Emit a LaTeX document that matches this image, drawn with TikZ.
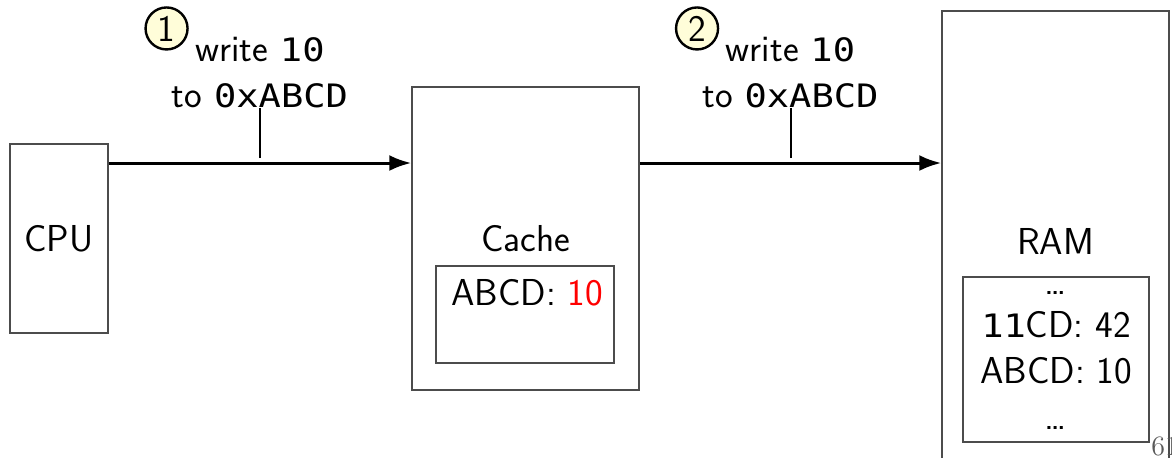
\documentclass[tikz,border=0pt]{standalone}
\usepackage{fontspec}
\setmonofont[Scale=0.86, FakeStretch=1.15]{DejaVu Sans Mono}
\usepackage{xcolor}
\usetikzlibrary{arrows.meta,positioning}

\begin{document}
\begin{tikzpicture}[
    x=0.5pt, y=-0.5pt,
    every node/.style={font=\sffamily\fontsize{18.75}{23}\selectfont},
    unit/.style={draw=black!70, line width=0.75pt, inner sep=0pt},
    arr/.style={-{Latex[length=11pt,width=8pt]}, line width=1.5pt},
    tick/.style={line width=1pt},
    note/.style={align=center, inner sep=0pt, anchor=south},
    num/.style={circle, draw, line width=1.2pt, fill=yellow!15, inner sep=0pt, minimum size=21pt},
]
    \path[use as bounding box] (0,0) rectangle (1172,457);

    % CPU
    \node[unit, minimum width=49pt, minimum height=94.5pt] (cpu) at (59,238.5) {CPU};

    % Cache
    \node[unit, minimum width=113.5pt, minimum height=151.5pt] (cache) at (525.5,238.5) {Cache};
    \node[unit, minimum width=89pt, minimum height=48.5pt] (cacheline) at (525,314.5) {};
    \node[anchor=base] (cacheval) at (527,305) {ABCD: \textcolor{red}{10}};

    % RAM
    \node[unit, minimum width=113.5pt, minimum height=230pt] (ram) at (1055.5,241) {RAM};
    \node[unit, minimum width=93pt, minimum height=82.5pt] (ramlines) at (1056,359.5) {};
    \node[anchor=base] (ramtop) at (1056,294) {\ldots};
    \node[anchor=base] (ramone) at (1056,337) {\texttt{11}CD: 42};
    \node[anchor=base] (ramtwo) at (1056,383) {ABCD: 10};
    \node[anchor=base] (rambot) at (1056,429) {\ldots};

    % step 1
    \draw[arr] ([yshift=37.75pt]cpu.east) -- coordinate (m1) ([yshift=37.75pt]cache.west);
    \node[note] (lab1) at (260,108) {write \texttt{10}\\to \texttt{0xABCD}};
    \draw[tick, shorten <=2.5pt] (m1) -- (m1 |- lab1.south);
    \node[num] (n1) at ([xshift=-2.5pt, yshift=4pt]lab1.north west) {1};

    % step 2
    \draw[arr] ([yshift=37.75pt]cache.east) -- coordinate (m2) ([yshift=39pt]ram.west);
    \node[note] (lab2) at (790.5,108) {write \texttt{10}\\to \texttt{0xABCD}};
    \draw[tick, shorten <=2.5pt] (m2) -- (m2 |- lab2.south);
    \node[num] (n2) at ([xshift=-2.5pt, yshift=4pt]lab2.north west) {2};

    % page number
    \node[font=\rmfamily\fontsize{14}{16}\selectfont, text=black!65, anchor=base west, inner sep=0pt] (page) at (1151,455) {61};
\end{tikzpicture}
\end{document}
